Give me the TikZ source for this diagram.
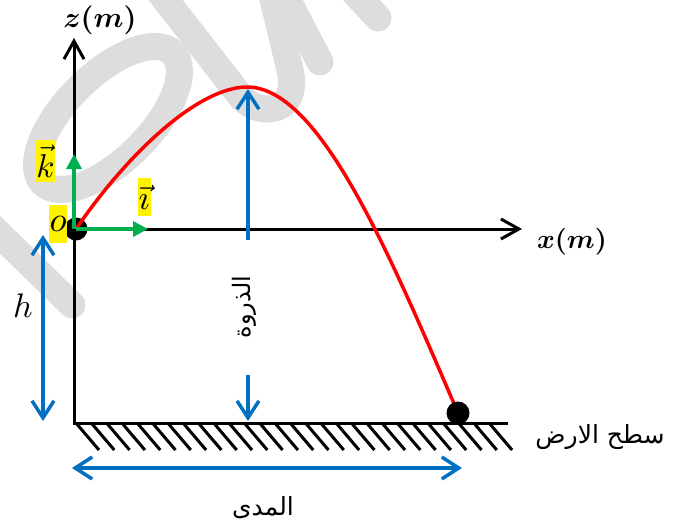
\documentclass[tikz,border=0pt]{standalone}
\usepackage{amsmath}
\usepackage{bm}
\usepackage{fontspec}
\newfontfamily\arabicfont[Script=Arabic]{DejaVu Sans}
\TeXXeTstate=1
\usetikzlibrary{arrows.meta}
\definecolor{mblue}{RGB}{0,112,192}
\definecolor{mgreen}{RGB}{0,176,80}
\definecolor{wmark}{RGB}{221,221,221}
\begin{document}
\begin{tikzpicture}[x=1pt,y=-1pt,
  axis/.style={line width=3pt,-{Straight Barb[length=18pt,width=20pt,line width=3pt]}},
  bluearr/.style={draw=mblue,line width=3.5pt},
  bhead/.tip={Straight Barb[length=17pt,width=22pt,line width=3.5pt]},
  greenarr/.style={draw=mgreen,line width=3.5pt,-{Triangle[length=15pt,width=15pt]},fill=mgreen},
  ball/.style={circle,fill=black,minimum size=23pt,inner sep=0pt},
  hl/.style={fill=yellow,inner sep=0pt},
  wm/.style={draw=wmark,line width=27pt,line cap=round},
  hatch/.style={line width=3pt}
]
\useasboundingbox (0,0) rectangle (680,528);
% watermark
\draw[wm,rotate around={45:(108,118)}] (108,118) ellipse [x radius=92,y radius=42];
\draw[wm] (150,-20) -- (242,98) .. controls (262,118) and (300,112) .. (290,70) -- (272,-5);
\draw[wm] (285,-5) -- (320,62);
\draw[wm] (352,-10) -- (378,18);
\draw[wm] (-10,225) -- (72,305);
% coordinates
\coordinate (zbot) at (74,423);
\coordinate (ztip) at (74,38);
\coordinate (xst) at (74,229);
\coordinate (xtip) at (522,229);
\coordinate (gL) at (72.5,423);
\coordinate (gR) at (508,423);
\coordinate (peakTop) at (248,89);
\coordinate (peakLow) at (248,240);
\coordinate (peakMid) at (248,375);
\coordinate (peakGnd) at (248,421);
\coordinate (hTop) at (43,235);
\coordinate (hBot) at (43,421);
\coordinate (rL) at (72,468);
\coordinate (rR) at (462,468);
\coordinate (itip) at (148,229);
\coordinate (ktip) at (74,154);
% hatching
\foreach \i in {0,...,27}{
  \draw[hatch] (76+15.3*\i,423) -- ++(23,27);
}
% axes
\draw[axis] (zbot) -- (ztip);
\draw[axis] (xst) -- (xtip);
\draw[line width=3pt] (gL) -- (gR);
% origin ball
\node[ball] (O) at (76,229) {};
% trajectory
\coordinate (P) at (247,87);
\draw[red,line width=3.5pt] (O.center) .. controls (130,150) and (200,87) .. (P)
   .. controls (320,87) and (390,255) .. (458,413);
\node[ball] (B) at (458,413) {};
% green unit vectors
\draw[greenarr] (O.center) -- (itip);
\draw[greenarr] (xst) -- (ktip);
% blue arrows
\draw[bluearr,-bhead] (peakLow) -- (peakTop);
\draw[bluearr,-bhead] (peakMid) -- (peakGnd);
\draw[bluearr,bhead-bhead] (hTop) -- (hBot);
\draw[bluearr,bhead-bhead] (rL) -- (rR);
% labels
\node[scale=2.9] (zl) at (100,20) {$\bm{z(m)}$};
\node[scale=2.7] (xl) at (572,242) {$\bm{x(m)}$};
\node[hl,minimum width=19pt,minimum height=42pt] (kl) at (45.5,161) {\scalebox{3.3}{$\vec{k}$}};
\node[hl,minimum width=13pt,minimum height=38pt] (il) at (144,197) {\scalebox{3.4}{$\vec{\imath}$}};
\node[hl,minimum width=18pt,minimum height=38pt] (ol) at (58,224) {\scalebox{3.5}{$o$}};
\node[scale=3.4] (hlab) at (23,306) {$h$};
\node[rotate=90] (peak) at (244,307) {\fontsize{24}{28}\selectfont\arabicfont\beginR الذروة\endR};
\node (range) at (263,508) {\fontsize{25}{28}\selectfont\arabicfont\beginR المدى\endR};
\node (ground) at (600,437) {\fontsize{25}{28}\selectfont\arabicfont\beginR سطح الارض\endR};
\end{tikzpicture}
\end{document}
